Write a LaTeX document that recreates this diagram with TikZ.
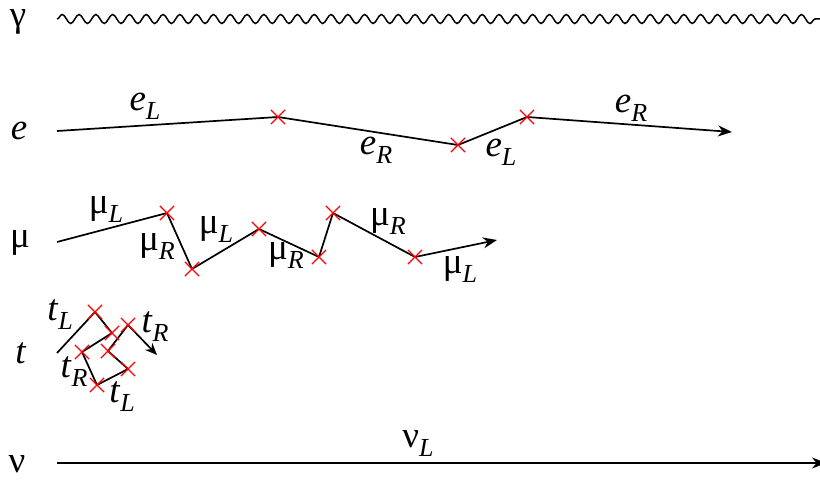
\documentclass[tikz,border=0pt]{standalone}
\usepackage{fontspec}
\setmainfont{Liberation Serif}
\newfontfamily\labfont{Liberation Serif}
\usepackage{tikz}
\usetikzlibrary{arrows.meta,decorations.pathmorphing,shapes.misc}
\definecolor{ink}{HTML}{000000}
\definecolor{hitred}{HTML}{FF0000}
\newcommand{\lbl}[2]{#1\raisebox{-9pt}{\fontsize{26}{26}\selectfont\itshape #2}}

\begin{document}
\begin{tikzpicture}[x=1pt,y=-1pt,
  line/.style={draw=ink,line width=1.7pt},
  track/.style={line,-{Stealth[length=14pt,width=11pt]}},
  hit/.style={cross out,draw=hitred,line width=1.2pt,minimum size=13pt,inner sep=0pt},
  tag/.style={inner sep=0pt,font=\labfont\fontsize{37}{40}\selectfont}
]
\useasboundingbox (0,0) rectangle (820,481);

% particle names
\node[tag] (gamma) at (18,22) {γ};
\node[tag] (elec) at (19,131) {\textit{e}};
\node[tag] (muon) at (20,243) {μ};
\node[tag] (tau) at (21,353) {\textit{t}};
\node[tag] (nu) at (17,464) {ν};

% photon
\coordinate (g0) at (57,19);
\coordinate (g1) at (822,19);
\draw[line,line width=1.5pt,decorate,decoration={snake,segment length=16.8pt,amplitude=4.5pt}] (g0) -- (g1);

% electron
\coordinate (e0) at (57,131);
\coordinate (e1) at (278,117);
\coordinate (e2) at (458,145);
\coordinate (e3) at (527,117);
\coordinate (e4) at (732,132);
\draw[track] (e0) -- (e1) -- (e2) -- (e3) -- (e4);
\foreach \p in {e1,e2,e3} \node[hit] (x\p) at (\p) {};
\node[tag] (eL1) at (145,106) {\lbl{\textit{e}}{L}};
\node[tag] (eR1) at (376,150) {\lbl{\textit{e}}{R}};
\node[tag] (eL2) at (501,152) {\lbl{\textit{e}}{L}};
\node[tag] (eR2) at (631,108) {\lbl{\textit{e}}{R}};

% muon
\coordinate (m0) at (57,242);
\coordinate (m1) at (167,213);
\coordinate (m2) at (192,269);
\coordinate (m3) at (259,229);
\coordinate (m4) at (319,257);
\coordinate (m5) at (333,213);
\coordinate (m6) at (415,257);
\coordinate (m7) at (497,240);
\draw[track] (m0) -- (m1) -- (m2) -- (m3) -- (m4) -- (m5) -- (m6) -- (m7);
\foreach \p in {m1,m2,m3,m4,m5,m6} \node[hit] (x\p) at (\p) {};
\node[tag] (mL1) at (106,210) {\lbl{μ}{L}};
\node[tag] (mR1) at (157,247) {\lbl{μ}{R}};
\node[tag] (mL2) at (216,230) {\lbl{μ}{L}};
\node[tag] (mR2) at (286,256) {\lbl{μ}{R}};
\node[tag] (mR3) at (388,222) {\lbl{μ}{R}};
\node[tag] (mL3) at (460,270) {\lbl{μ}{L}};

% tau
\coordinate (t0) at (57,353);
\coordinate (t1) at (95,312);
\coordinate (t2) at (112,333);
\coordinate (t3) at (82,352);
\coordinate (t4) at (97,385);
\coordinate (t5) at (128,369);
\coordinate (t6) at (108,351);
\coordinate (t7) at (128,325);
\coordinate (t8) at (157,355);
\draw[track,-{Stealth[length=12pt,width=10pt]}] (t0) -- (t1) -- (t2) -- (t3) -- (t4) -- (t5) -- (t6) -- (t7) -- (t8);
\foreach \p in {t1,t2,t3,t4,t5,t6,t7} \node[hit] (x\p) at (\p) {};
\node[tag] (tL1) at (60,315) {\lbl{\textit{t}}{L}};
\node[tag] (tR1) at (155,327) {\lbl{\textit{t}}{R}};
\node[tag] (tR2) at (74,372) {\lbl{\textit{t}}{R}};
\node[tag] (tL2) at (122,397) {\lbl{\textit{t}}{L}};

% neutrino
\coordinate (n0) at (57,463);
\coordinate (n1) at (826,463);
\draw[track] (n0) -- (n1);
\node[tag] (nL) at (418,444) {\lbl{ν}{L}};
\end{tikzpicture}
\end{document}
